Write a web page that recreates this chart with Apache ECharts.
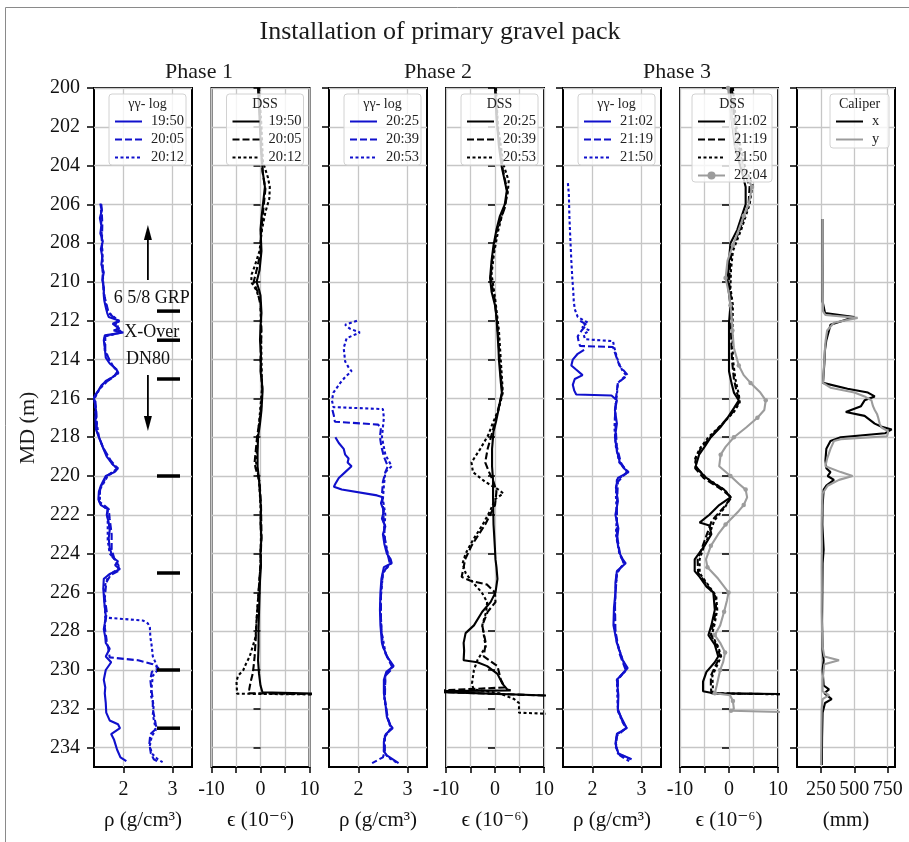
<!DOCTYPE html>
<html>

<head>
    <meta charset="utf-8">
    <script type="text/javascript" src="https://cdn.jsdelivr.net/npm/echarts@6/dist/echarts.min.js"></script>
    <title>Installation of primary gravel pack</title>
    <style>html, body { margin: 0; padding: 0; background: #fff; }</style>
</head>

<body>
    <div id="container" style="width:909px;height:842px;"></div>
    <script type="text/javascript">
    // ---- data: [depth (m), value] ----
    var depthTicks = [200, 202, 204, 206, 208, 210, 212, 214, 216, 218, 220, 222, 224, 226, 228, 230, 232, 234];
    var rhoTicks = [2, 3];
    var caliperTicks = [250, 500, 750];

    // Phase 1, gamma-gamma log (g/cm3)
    var g1_1950 = [[205.95,1.53],[206.3,1.56],[206.7,1.52],[207.1,1.55],[207.5,1.53],[207.9,1.58],[208.3,1.54],[208.7,1.57],[209.1,1.55],[209.5,1.6],[209.9,1.57],[210.3,1.6],[210.7,1.6],[210.95,1.61],[211.3,1.64],[211.6,1.67],[211.8,1.7],[212.0,1.92],[212.15,1.78],[212.3,1.86],[212.4,1.92],[212.5,1.8],[212.6,2.0],[212.75,1.62],[213.0,1.6],[213.4,1.62],[213.9,1.64],[214.2,1.72],[214.5,1.86],[214.7,1.89],[214.9,1.78],[215.1,1.64],[215.4,1.54],[215.8,1.43],[215.95,1.4],[216.3,1.42],[216.6,1.44],[217.0,1.43],[217.6,1.44],[218.0,1.5],[218.4,1.56],[218.7,1.61],[219.0,1.66],[219.2,1.72],[219.45,1.8],[219.6,1.89],[219.8,1.82],[220.0,1.64],[220.3,1.58],[220.5,1.54],[220.8,1.5],[221.2,1.49],[221.5,1.54],[221.7,1.68],[222.0,1.66],[222.4,1.7],[222.8,1.72],[223.2,1.7],[223.7,1.72],[224.2,1.78],[224.4,1.89],[224.6,1.83],[224.8,1.93],[225.05,1.72],[225.3,1.6],[225.8,1.59],[226.5,1.61],[227.2,1.64],[227.6,1.62],[227.9,1.6],[228.3,1.63],[228.6,1.64],[228.9,1.72],[229.3,1.64],[229.6,1.75],[230.0,1.64],[230.5,1.6],[230.9,1.63],[231.2,1.62],[231.7,1.64],[232.2,1.65],[232.6,1.72],[232.8,1.89],[233.0,1.93],[233.3,1.75],[233.6,1.81],[234.1,1.87],[234.5,1.94],[234.7,2.06]];
    var g1_2005 = [[206.0,1.55],[207.0,1.57],[208.0,1.56],[209.0,1.57],[210.0,1.58],[210.8,1.62],[211.6,1.7],[212.0,1.88],[212.3,1.82],[212.6,1.95],[212.8,1.63],[213.5,1.63],[214.2,1.74],[214.6,1.88],[214.9,1.8],[215.3,1.56],[215.9,1.42],[216.8,1.45],[217.7,1.46],[218.5,1.58],[219.2,1.74],[219.6,1.88],[220.0,1.66],[220.6,1.53],[221.3,1.5],[221.7,1.7],[222.2,1.72],[223.0,1.76],[223.8,1.76],[224.3,1.82],[224.6,1.9],[224.9,1.9],[225.1,1.74],[225.5,1.65],[226.3,1.62],[227.0,1.66],[227.8,1.62],[228.5,1.66],[229.0,1.7],[229.35,1.72],[229.5,2.3],[229.7,2.6],[229.9,2.72],[230.1,2.58],[230.5,2.55],[231.0,2.57],[231.5,2.6],[232.0,2.6],[232.4,2.63],[232.8,2.66],[233.0,2.68],[233.3,2.55],[233.8,2.53],[234.3,2.56],[234.6,2.62],[234.75,2.72]];
    var g1_2012 = [[206.0,1.54],[207.2,1.55],[208.4,1.57],[209.6,1.58],[210.6,1.6],[211.5,1.67],[212.0,1.9],[212.4,1.88],[212.6,1.97],[212.8,1.62],[213.6,1.62],[214.3,1.78],[214.7,1.9],[215.0,1.72],[215.5,1.52],[216.0,1.41],[217.0,1.44],[218.0,1.5],[218.8,1.63],[219.4,1.78],[219.65,1.88],[220.0,1.68],[220.7,1.52],[221.4,1.52],[221.75,1.68],[222.5,1.68],[223.3,1.68],[224.0,1.72],[224.4,1.86],[224.8,1.9],[225.1,1.7],[225.8,1.6],[226.6,1.62],[227.3,1.63],[227.45,2.4],[227.6,2.5],[227.8,2.54],[228.3,2.55],[228.8,2.58],[229.3,2.6],[229.7,2.67],[230.0,2.7],[230.3,2.6],[230.8,2.58],[231.3,2.56],[231.8,2.62],[232.3,2.6],[232.8,2.64],[233.1,2.66],[233.4,2.58],[233.9,2.54],[234.3,2.58],[234.6,2.7],[234.75,2.8]];

    // Phase 1, DSS strain (1e-6)
    var d1_1950 = [[200.0,-0.5],[201.0,-0.3],[202.1,-0.1],[203.2,0.1],[204.4,0.5],[205.1,0.9],[206.0,0.5],[206.7,0.2],[207.3,0.0],[208.4,0.2],[209.4,-0.2],[210.0,-0.8],[210.4,-0.3],[210.7,0.0],[211.6,0.2],[212.3,0.0],[213.0,-0.1],[213.8,0.1],[214.6,0.0],[215.2,0.3],[215.7,0.4],[216.6,0.2],[217.3,-0.1],[218.0,-0.5],[218.8,-0.6],[219.5,-0.6],[220.2,-0.3],[220.9,-0.1],[221.7,0.1],[222.5,0.0],[223.2,0.2],[223.8,0.0],[224.6,0.1],[225.4,-0.1],[226.2,-0.2],[227.0,-0.3],[227.9,-0.4],[228.8,-0.4],[229.5,-0.5],[230.2,-0.3],[230.8,0.0],[231.15,0.4],[231.25,15]];
    var d1_2005 = [[200.0,-0.4],[202.0,0.0],[204.3,0.4],[205.2,1.0],[206.2,0.6],[207.5,0.1],[208.5,0.0],[209.4,-0.8],[210.0,-1.4],[210.5,-0.6],[211.2,0.0],[212.5,0.2],[214.0,0.0],[215.5,0.4],[216.8,0.0],[218.0,-0.7],[219.3,-1.2],[219.6,-1.0],[220.3,-0.2],[221.5,0.1],[223.0,0.2],[224.5,0.0],[226.0,-0.4],[227.5,-0.8],[228.5,-1.0],[229.3,-1.2],[229.8,-1.4],[230.2,-1.6],[230.6,-2.0],[231.0,-2.3],[231.2,-2.5],[231.26,15]];
    var d1_2012 = [[200.0,-0.3],[202.0,0.2],[203.8,0.5],[204.6,1.5],[205.1,1.9],[205.7,1.8],[206.4,1.0],[207.3,0.3],[208.4,-0.2],[209.2,-1.2],[209.6,-1.8],[210.0,-1.9],[210.4,-0.9],[211.0,0.0],[212.5,0.1],[214.0,0.2],[215.5,0.3],[217.0,-0.2],[218.2,-0.6],[219.3,-0.9],[220.2,-0.3],[221.5,0.0],[223.0,0.1],[224.6,0.0],[226.0,-0.4],[227.4,-0.8],[228.3,-1.0],[228.8,-1.6],[229.3,-2.2],[229.7,-3.0],[230.0,-3.5],[230.3,-4.6],[230.6,-4.9],[231.1,-4.8],[231.22,-4.8],[231.27,15]];

    // Phase 2, gamma-gamma log
    var g2_2025 = [[218.0,1.53],[218.3,1.6],[218.6,1.7],[218.9,1.73],[219.1,1.8],[219.3,1.78],[219.5,1.86],[219.8,1.73],[220.1,1.6],[220.4,1.53],[220.55,1.5],[220.7,1.66],[221.0,2.38],[221.1,2.5],[221.4,2.46],[221.8,2.52],[222.2,2.48],[222.6,2.55],[223.0,2.5],[223.5,2.53],[224.0,2.58],[224.3,2.66],[224.5,2.68],[224.7,2.52],[225.3,2.47],[226.0,2.45],[226.9,2.44],[227.7,2.45],[228.6,2.48],[229.3,2.58],[229.8,2.72],[230.1,2.57],[230.5,2.52],[231.2,2.52],[231.7,2.55],[232.4,2.58],[232.8,2.64],[233.0,2.7],[233.3,2.56],[233.7,2.52],[234.2,2.52],[234.4,2.58],[234.8,2.82]];
    var g2_2039 = [[216.6,1.47],[216.9,1.5],[217.2,1.52],[217.35,2.4],[217.5,2.46],[218.0,2.44],[218.5,2.47],[219.0,2.52],[219.5,2.6],[219.8,2.55],[220.3,2.5],[221.0,2.48],[221.5,2.5],[222.5,2.52],[223.5,2.55],[224.5,2.64],[225.0,2.5],[226.0,2.46],[227.5,2.46],[228.8,2.5],[229.5,2.62],[229.9,2.7],[230.3,2.55],[231.5,2.54],[232.5,2.6],[233.0,2.68],[233.4,2.54],[234.2,2.54],[234.5,2.5],[234.8,2.28]];
    var g2_2053 = [[212.0,1.97],[212.2,1.73],[212.4,1.82],[212.6,2.03],[212.9,1.76],[213.4,1.7],[214.1,1.73],[214.4,1.8],[214.6,1.86],[214.9,1.73],[215.2,1.63],[215.7,1.49],[216.1,1.46],[216.45,1.49],[216.55,2.5],[217.0,2.52],[218.0,2.48],[218.9,2.55],[219.5,2.68],[219.8,2.55],[220.5,2.52],[221.2,2.5],[222.0,2.55],[223.0,2.52],[224.0,2.6],[224.5,2.66],[225.0,2.5],[226.5,2.45],[228.0,2.47],[229.2,2.56],[229.8,2.7],[230.3,2.55],[231.5,2.53],[232.5,2.6],[233.0,2.66],[233.5,2.53],[234.2,2.52],[234.5,2.6],[234.8,2.8]];

    // Phase 2, DSS strain
    var d2_2025 = [[200.0,0.0],[201.5,0.3],[203.0,0.8],[204.1,1.4],[204.8,2.0],[205.3,2.4],[206.0,2.0],[206.6,1.0],[207.3,0.3],[208.1,-0.3],[208.9,-0.7],[209.8,-1.0],[210.5,-0.7],[211.2,0.0],[211.8,0.3],[212.6,0.5],[213.4,0.7],[214.0,0.8],[214.6,1.0],[215.2,1.2],[215.7,1.4],[216.2,1.0],[216.6,0.7],[217.2,0.2],[217.7,-0.3],[218.6,-0.6],[219.5,-0.6],[220.2,-0.4],[221.1,-0.4],[222.5,-0.3],[223.8,0.0],[224.3,0.1],[224.7,0.3],[225.3,0.5],[226.0,0.1],[226.5,-0.9],[227.0,-2.6],[227.7,-4.3],[228.1,-6.0],[228.6,-6.4],[229.0,-6.3],[229.5,-6.4],[229.6,-3.6],[229.8,-1.6],[230.2,0.5],[230.7,1.5],[231.0,2.5],[231.05,3.2],[231.1,-15],[231.35,15]];
    var d2_2039 = [[200.0,0.1],[202.0,0.5],[204.2,1.6],[205.3,2.5],[206.1,2.1],[207.3,0.4],[208.9,-0.6],[209.8,-0.9],[211.0,0.0],[212.6,0.6],[214.6,1.1],[215.7,1.5],[216.6,0.6],[217.7,-0.5],[218.6,-1.5],[219.3,-2.0],[219.8,-1.2],[220.3,-0.3],[220.8,0.3],[221.5,0.0],[222.0,-1.0],[222.5,-2.0],[223.0,-3.3],[223.6,-4.8],[224.3,-6.1],[224.7,-6.4],[225.2,-6.8],[225.4,-5.0],[225.6,-1.6],[226.0,0.0],[226.5,0.1],[227.0,-1.5],[227.7,-2.6],[228.6,-1.9],[229.3,-2.3],[229.8,0.5],[230.5,1.2],[230.9,2.0],[231.1,-15],[231.36,15]];
    var d2_2053 = [[200.0,0.2],[202.0,0.6],[204.0,1.8],[204.8,2.8],[205.4,2.6],[206.4,1.6],[207.3,0.7],[208.5,-0.2],[209.6,-0.7],[210.8,0.0],[212.5,0.8],[214.5,1.3],[215.7,1.6],[216.6,0.7],[217.3,-0.5],[217.9,-1.4],[218.6,-3.0],[219.3,-4.8],[219.8,-4.5],[220.3,-2.0],[220.7,0.7],[220.9,1.7],[221.2,0.0],[221.8,-1.0],[222.5,-2.5],[223.3,-4.5],[224.0,-6.0],[224.5,-6.6],[225.0,-6.0],[225.5,-4.5],[226.0,-2.7],[226.5,-1.6],[227.0,-1.8],[227.7,-2.6],[228.8,-1.9],[229.5,-3.6],[230.0,-4.3],[230.7,-4.7],[231.0,-4.4],[231.2,0.9],[231.5,3.9],[231.7,4.9],[232.2,4.9],[232.3,15]];

    // Phase 3, gamma-gamma log
    var g3_2102 = [[213.5,1.83],[213.7,1.7],[214.0,1.6],[214.3,1.57],[214.5,1.66],[214.8,1.8],[215.0,1.64],[215.3,1.6],[215.6,1.63],[215.8,1.67],[215.85,2.39],[216.1,2.5],[216.6,2.46],[217.3,2.5],[218.0,2.46],[218.7,2.5],[219.3,2.56],[219.6,2.64],[219.8,2.74],[220.1,2.52],[220.6,2.48],[221.3,2.52],[222.0,2.47],[222.7,2.53],[223.3,2.5],[224.0,2.56],[224.3,2.62],[224.5,2.68],[224.9,2.5],[225.5,2.47],[226.0,2.47],[226.8,2.44],[227.7,2.43],[228.6,2.5],[229.5,2.62],[229.9,2.72],[230.5,2.5],[231.3,2.53],[232.1,2.52],[232.6,2.62],[233.0,2.7],[233.3,2.5],[233.8,2.47],[234.3,2.53],[234.6,2.8]];
    var g3_2119 = [[212.0,1.75],[212.2,1.88],[212.5,1.78],[212.8,1.7],[213.1,1.72],[213.3,1.75],[213.35,2.42],[213.8,2.48],[214.3,2.55],[214.8,2.72],[215.2,2.52],[216.0,2.48],[217.0,2.46],[218.5,2.5],[219.3,2.58],[219.8,2.7],[220.3,2.52],[221.5,2.5],[223.0,2.5],[224.0,2.56],[224.5,2.64],[225.0,2.5],[226.5,2.46],[228.0,2.47],[229.2,2.56],[230.0,2.68],[230.5,2.52],[232.0,2.52],[232.7,2.62],[233.0,2.68],[233.4,2.5],[234.0,2.48],[234.4,2.56],[234.7,2.75]];
    var g3_2150 = [[204.9,1.5],[205.5,1.52],[206.6,1.53],[207.8,1.55],[208.9,1.57],[209.8,1.59],[210.5,1.61],[211.0,1.62],[211.4,1.64],[211.8,1.7],[212.1,1.91],[212.3,1.78],[212.5,1.94],[212.7,1.82],[212.95,1.85],[213.05,2.42],[213.4,2.45],[213.9,2.5],[214.3,2.56],[214.6,2.62],[214.8,2.69],[215.2,2.52],[215.8,2.5],[216.5,2.47],[217.5,2.45],[218.5,2.48],[219.3,2.55],[219.8,2.73],[220.2,2.5],[221.0,2.48],[222.0,2.5],[223.0,2.48],[224.0,2.55],[224.5,2.65],[225.0,2.5],[226.0,2.47],[227.7,2.45],[228.6,2.5],[229.5,2.62],[230.0,2.7],[230.5,2.5],[232.1,2.52],[232.6,2.6],[233.0,2.7],[233.3,2.5],[233.8,2.48],[234.3,2.52],[234.6,2.78]];

    // Phase 3, DSS strain
    var d3_2102 = [[200.0,0.3],[201.5,0.5],[203.0,1.2],[204.2,2.5],[205.1,3.4],[206.0,3.4],[206.6,2.6],[207.3,1.7],[208.0,0.3],[208.9,0.0],[210.0,-0.3],[211.2,0.3],[212.1,0.0],[213.4,0.0],[214.6,0.0],[215.2,0.5],[215.7,1.0],[216.1,2.0],[216.5,1.0],[217.0,-0.3],[217.5,-1.8],[218.0,-3.7],[218.5,-5.0],[218.9,-6.1],[219.5,-6.8],[220.0,-5.1],[220.4,-3.0],[220.7,-1.0],[221.1,0.3],[221.5,-2.0],[222.0,-4.0],[222.4,-6.0],[222.55,-4.0],[223.0,-3.6],[223.6,-5.0],[224.3,-7.0],[224.9,-7.0],[225.2,-6.0],[225.7,-4.6],[226.0,-3.2],[226.9,-2.9],[227.7,-3.6],[228.2,-4.2],[228.7,-2.9],[229.3,-2.2],[229.6,-2.9],[230.1,-4.6],[230.6,-5.3],[231.1,-5.3],[231.2,-3.2],[231.25,15]];
    var d3_2119 = [[200.0,0.6],[202.0,1.2],[204.0,2.8],[205.1,4.2],[206.0,4.0],[207.3,2.2],[208.3,0.6],[209.2,0.2],[210.0,0.0],[211.2,0.6],[212.5,0.4],[214.0,0.6],[215.0,1.0],[215.7,1.6],[216.1,2.2],[216.6,1.2],[217.2,-1.0],[218.0,-3.8],[218.6,-5.8],[219.1,-6.8],[219.6,-6.9],[220.1,-5.2],[220.7,-1.5],[221.1,0.5],[221.6,-1.0],[222.3,-3.5],[223.0,-4.5],[223.7,-5.5],[224.3,-6.4],[225.0,-6.3],[225.6,-4.5],[226.2,-2.8],[226.9,-2.6],[227.7,-3.3],[228.2,-3.7],[228.8,-2.4],[229.3,-1.8],[229.8,-2.8],[230.3,-3.7],[230.8,-3.7],[231.2,-3.6],[231.26,15]];
    var d3_2150 = [[200.0,0.8],[202.0,1.5],[204.0,3.2],[205.0,4.8],[206.0,4.2],[207.3,2.5],[208.4,0.8],[209.4,0.4],[210.3,0.3],[211.2,0.8],[212.5,0.7],[214.0,0.8],[215.0,1.3],[215.8,2.0],[216.2,2.2],[216.7,1.0],[217.3,-1.3],[218.0,-4.2],[218.6,-6.0],[219.1,-6.9],[219.6,-6.6],[220.1,-4.6],[220.7,-1.0],[221.1,0.4],[221.6,-0.8],[222.3,-3.0],[223.0,-4.0],[223.7,-5.2],[224.3,-6.0],[225.0,-6.0],[225.6,-4.3],[226.2,-2.6],[226.9,-2.4],[227.7,-3.0],[228.2,-3.5],[228.8,-2.2],[229.3,-1.6],[229.8,-2.5],[230.3,-3.4],[230.8,-3.3],[231.2,-3.3],[231.27,15]];
    var d3_2204 = [[200.0,-0.2],[201.5,0.5],[203.0,1.5],[204.2,3.0],[205.1,4.7],[206.0,4.0],[206.6,3.0],[207.3,2.0],[208.1,0.8],[208.9,-0.3],[209.8,-0.7],[210.6,0.0],[211.2,0.3],[212.0,0.6],[212.5,0.7],[213.4,1.0],[214.3,2.0],[214.8,3.0],[215.2,4.4],[215.7,6.4],[216.1,7.5],[216.6,7.2],[217.0,5.8],[217.5,3.5],[218.0,1.0],[218.5,-0.7],[218.9,-1.7],[219.5,-2.0],[220.0,0.3],[220.4,2.0],[220.7,3.4],[221.1,3.7],[221.5,3.0],[221.8,2.0],[222.5,-0.7],[223.0,-2.2],[223.6,-3.7],[224.3,-4.7],[224.7,-4.4],[225.3,-2.2],[226.0,-0.1],[226.4,-0.4],[227.0,-1.0],[227.7,-1.8],[228.2,-2.9],[228.6,-1.8],[229.1,-0.8],[229.6,-1.2],[230.0,-1.8],[230.8,-2.5],[231.2,-2.9],[231.3,0.2],[231.6,0.8],[232.0,1.0],[232.1,0.4],[232.2,15]];

    // Caliper (mm)
    var calX = [[206.75,262],[208.0,262],[209.5,262],[211.0,262],[211.6,280],[211.8,500],[212.2,321],[212.5,310],[213.0,290],[213.5,280],[214.2,275],[215.2,265],[215.5,449],[215.7,602],[215.9,653],[216.1,577],[216.4,550],[216.7,436],[216.9,577],[217.3,653],[217.45,700],[217.6,780],[217.8,730],[218.0,398],[218.2,321],[218.6,290],[219.2,283],[219.6,290],[219.8,321],[220.0,300],[220.2,347],[220.5,290],[220.7,270],[221.5,262],[222.5,260],[223.8,270],[224.5,262],[226.0,260],[227.5,258],[229.0,262],[229.5,270],[230.0,262],[230.8,270],[231.0,310],[231.2,275],[231.5,330],[231.7,280],[232.2,262],[233.5,258],[234.9,256]];
    var calY = [[206.75,263],[207.5,263],[208.5,263],[209.5,262],[210.5,263],[211.5,265],[211.7,283],[211.85,525],[212.1,347],[212.5,296],[213.0,285],[213.4,280],[214.0,275],[214.6,270],[215.2,265],[215.45,321],[215.7,500],[215.9,577],[216.1,628],[216.4,640],[216.6,653],[216.8,670],[217.0,679],[217.3,690],[217.5,704],[217.7,755],[217.95,745],[218.1,398],[218.2,347],[218.6,321],[219.1,296],[219.5,283],[219.8,398],[220.0,487],[220.2,385],[220.5,300],[220.9,262],[221.5,258],[222.5,255],[223.5,257],[224.7,255],[225.8,256],[227.0,255],[228.0,258],[228.8,262],[229.3,275],[229.5,385],[229.7,275],[230.5,262],[231.1,262],[231.3,310],[231.5,262],[232.0,255],[233.0,253],[234.0,252],[234.9,250]];

    // Phase 1 annotations: casing joint depths and labels
    var jointDepths = [211.5, 213, 215, 220, 225, 230, 233];
    var noteLabels = ['6 5/8 GRP', 'X-Over', 'DN80'];
    var noteDepths = [210.83, 212.58, 213.97];

    // ---- layout ----
    var FONT = '"Liberation Serif", "DejaVu Serif", serif';
    var BLUE = '#1010cc';
    var GRAY = '#9c9c9c';
    var panelLeft = [94, 211.5, 329, 446, 563, 680, 797];
    var panelW = 98, panelTop = 88, panelH = 679;
    var DASH = [7, 3], DOT = [3, 2.5];

    var panels = [
        { kind: 'rho', title: 'γγ- log', boxW: 77, lines: [['19:50', g1_1950, BLUE, 'solid'], ['20:05', g1_2005, BLUE, DASH], ['20:12', g1_2012, BLUE, DOT]] },
        { kind: 'dss', title: 'DSS', boxW: 77, lines: [['19:50', d1_1950, '#000', 'solid'], ['20:05', d1_2005, '#000', DASH], ['20:12', d1_2012, '#000', DOT]] },
        { kind: 'rho', title: 'γγ- log', boxW: 77, lines: [['20:25', g2_2025, BLUE, 'solid'], ['20:39', g2_2039, BLUE, DASH], ['20:53', g2_2053, BLUE, DOT]] },
        { kind: 'dss', title: 'DSS', boxW: 77, lines: [['20:25', d2_2025, '#000', 'solid'], ['20:39', d2_2039, '#000', DASH], ['20:53', d2_2053, '#000', DOT]] },
        { kind: 'rho', title: 'γγ- log', boxW: 77, lines: [['21:02', g3_2102, BLUE, 'solid'], ['21:19', g3_2119, BLUE, DASH], ['21:50', g3_2150, BLUE, DOT]] },
        { kind: 'dss', title: 'DSS', boxW: 80, lines: [['21:02', d3_2102, '#000', 'solid'], ['21:19', d3_2119, '#000', DASH], ['21:50', d3_2150, '#000', DOT], ['22:04', d3_2204, GRAY, 'solid', true]] },
        { kind: 'cal', title: 'Caliper', boxW: 59, lines: [['x', calX, '#000', 'solid'], ['y', calY, GRAY, 'solid']] }
    ];

    function toXY(arr) {
        return arr.map(function (p) { return [p[1], p[0]]; });
    }

    var chart = echarts.init(document.getElementById('container'));
    var grids = [], xAxes = [], yAxes = [], series = [], legends = [], graphics = [];
    var tickStyle = { color: '#000', width: 1.5 };
    var splitStyle = { color: '#c6c6c6', width: 1.3 };

    // figure frame
    graphics.push({ type: 'rect', shape: { x: 5.5, y: 7.5, width: 1000, height: 1000 }, style: { fill: 'none', stroke: '#8a8a8a', lineWidth: 1 }, z: 1 });

    panels.forEach(function (p, i) {
        grids.push({
            left: panelLeft[i], top: panelTop, width: panelW, height: panelH,
            show: true, borderColor: '#000', borderWidth: 2, containLabel: false, outerBoundsMode: 'none'
        });

        var xa = {
            gridIndex: i, type: 'value', position: 'bottom',
            axisLine: { show: false },
            axisTick: { show: true, length: 6, lineStyle: tickStyle },
            axisLabel: { fontFamily: FONT, fontSize: 20, color: '#111', margin: 13, showMinLabel: true, showMaxLabel: true },
            splitLine: { show: true, lineStyle: splitStyle },
            nameLocation: 'middle', nameGap: 43,
            nameTextStyle: { fontFamily: FONT, fontSize: 21, color: '#111' }
        };
        if (p.kind === 'rho') {
            xa.min = 1.4; xa.max = 3.4;
            xa.axisTick.customValues = rhoTicks;
            xa.axisLabel.customValues = rhoTicks;
            xa.name = 'ρ (g/cm³)';
        } else if (p.kind === 'dss') {
            xa.min = -10; xa.max = 10; xa.interval = 5;
            xa.axisLabel.formatter = function (v) { return v % 10 === 0 ? String(v) : ''; };
            xa.name = 'ϵ (10⁻⁶)';
        } else {
            xa.min = 70; xa.max = 805;
            xa.axisTick.customValues = caliperTicks;
            xa.axisLabel.customValues = caliperTicks;
            xa.name = '(mm)';
        }
        xAxes.push(xa);

        yAxes.push({
            gridIndex: i, type: 'value', inverse: true, min: 200, max: 235,
            axisLine: { show: false },
            axisTick: { show: true, length: 7, lineStyle: tickStyle, customValues: depthTicks },
            axisLabel: { show: i === 0, customValues: depthTicks, fontFamily: FONT, fontSize: 20, color: '#111', margin: 14 },
            splitLine: { show: true, lineStyle: splitStyle }
        });

        var legendData = [];
        p.lines.forEach(function (l) {
            var nm = i + '|' + l[0];
            // hide the legend marker for series drawn without markers
            legendData.push({ name: nm, itemStyle: { opacity: l[4] ? 1 : 0 } });
            var s = {
                name: nm, type: 'line', xAxisIndex: i, yAxisIndex: i,
                data: toXY(l[1]), symbol: 'none', clip: true, z: 2,
                lineStyle: { color: l[2], width: 2.1, type: l[3] },
                itemStyle: { color: l[2] }
            };
            if (l[4]) {
                s.symbol = 'circle';
                s.symbolSize = function (v, params) { return params.dataIndex % 2 ? 0 : 4.5; };
                s.showSymbol = true;
            }
            series.push(s);
        });

        // legend box
        var boxRight = panelLeft[i] + panelW - 6;
        var boxLeft = boxRight - p.boxW;
        var boxTop = 94;
        var boxH = 20 + p.lines.length * 17;
        graphics.push({
            type: 'rect', z: 3,
            shape: { x: boxLeft, y: boxTop, width: p.boxW, height: boxH, r: 3 },
            style: { fill: 'rgba(255,255,255,0.8)', stroke: '#d2d2d2', lineWidth: 1 }
        });
        graphics.push({
            type: 'text', z: 5, x: boxLeft + p.boxW / 2, y: boxTop + 10.5,
            style: { text: p.title, fontFamily: FONT, fontSize: 14, fill: '#222', align: 'center', verticalAlign: 'middle', textAlign: 'center', textVerticalAlign: 'middle' }
        });
        legends.push({
            orient: 'vertical', left: boxLeft + 5, top: boxTop + 20, padding: 0,
            itemWidth: 27, itemHeight: 10, itemGap: 3, selectedMode: false, z: 6,
            data: legendData,
            formatter: function (name) { return name.slice(name.indexOf('|') + 1); },
            textStyle: { fontFamily: FONT, fontSize: 14.5, lineHeight: 14, color: '#222', padding: [0, 0, 0, 4] }
        });
    });

    // Phase 1 annotations
    series.push({
        type: 'scatter', xAxisIndex: 0, yAxisIndex: 0, z: 4,
        symbol: 'rect', symbolSize: [23, 3.5], itemStyle: { color: '#000', opacity: 1 },
        data: jointDepths.map(function (d) { return [2.92, d]; })
    });
    series.push({
        type: 'scatter', xAxisIndex: 0, yAxisIndex: 0, z: 4,
        symbolSize: 1, itemStyle: { color: 'transparent', opacity: 1 },
        label: { show: true, position: 'inside', formatter: '{b}', fontFamily: FONT, fontSize: 18, color: '#111', opacity: 1, textBorderWidth: 0 },
        data: noteLabels.map(function (t, k) { return { name: t, value: [k === 2 ? 2.5 : 2.58, noteDepths[k]] }; })
    });
    series.push({
        type: 'line', xAxisIndex: 0, yAxisIndex: 0, z: 4, clip: false,
        lineStyle: { color: '#000', width: 1.8 }, itemStyle: { color: '#000' },
        data: [{ value: [2.5, 209.9], symbol: 'none' }, { value: [2.5, 207.45], symbol: 'triangle', symbolSize: [8, 15] }]
    });
    series.push({
        type: 'line', xAxisIndex: 0, yAxisIndex: 0, z: 4, clip: false,
        lineStyle: { color: '#000', width: 1.8 }, itemStyle: { color: '#000' },
        data: [{ value: [2.5, 214.8], symbol: 'none' }, { value: [2.5, 217.3], symbol: 'triangle', symbolSize: [8, 15], symbolRotate: 180 }]
    });

    // titles
    var textBits = [
        ['Installation of primary gravel pack', 440, 32, 26, 0],
        ['Phase 1', 199, 72, 22, 0],
        ['Phase 2', 438, 72, 22, 0],
        ['Phase 3', 677, 72, 22, 0],
        ['MD (m)', 28, 428, 22, Math.PI / 2]
    ];
    textBits.forEach(function (t) {
        graphics.push({
            type: 'text', x: t[1], y: t[2], rotation: t[4], z: 5,
            style: { text: t[0], fontFamily: FONT, fontSize: t[3], fill: '#1a1a1a', align: 'center', verticalAlign: 'middle', textAlign: 'center', textVerticalAlign: 'middle' }
        });
    });

    var option = {
        backgroundColor: '#fff',
        animation: false,
        grid: grids,
        xAxis: xAxes,
        yAxis: yAxes,
        legend: legends,
        series: series,
        graphic: { elements: graphics }
    };

    chart.setOption(option);
    </script>
</body>

</html>
